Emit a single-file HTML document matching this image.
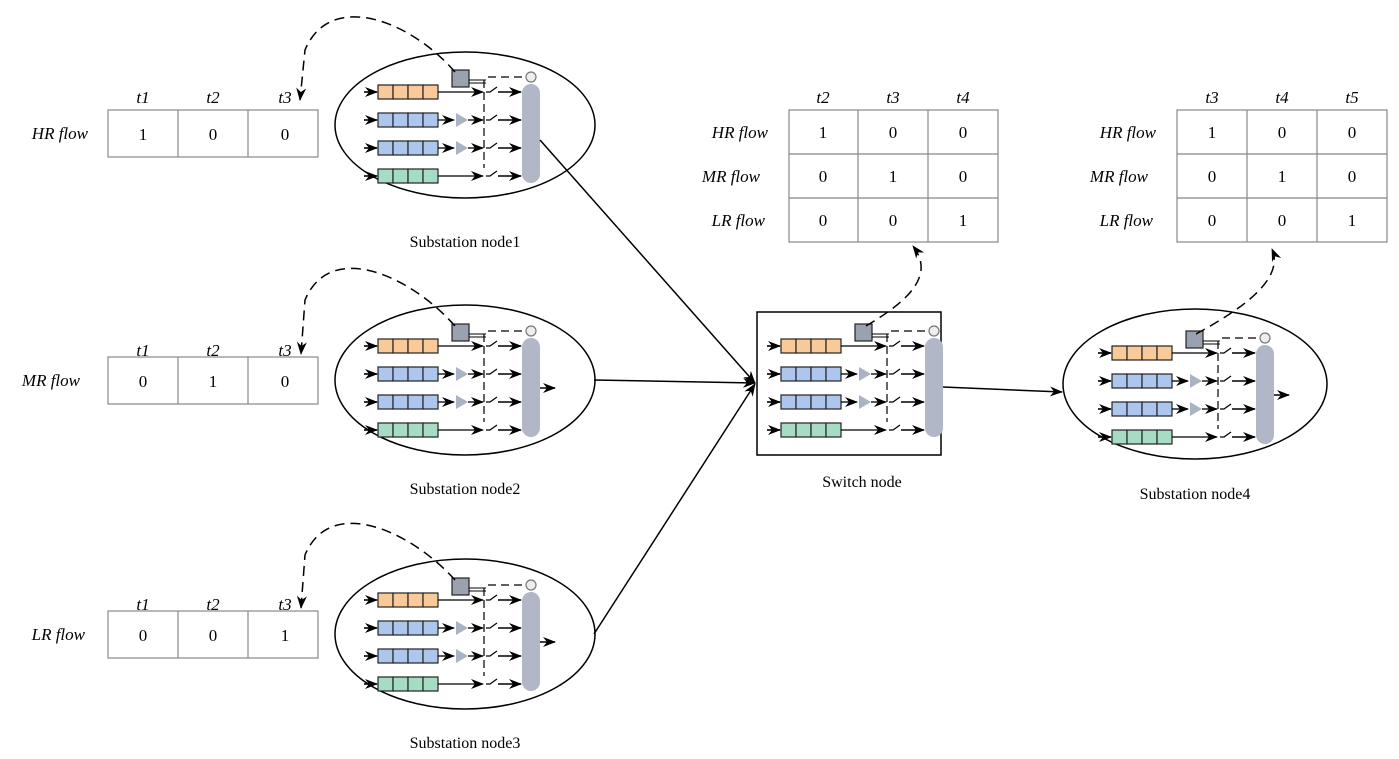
<!DOCTYPE html>
<html><head><meta charset="utf-8"><style>
body{margin:0;background:#fff}
svg{display:block;font-family:"Liberation Serif",serif}
.it{font-style:italic;font-size:17px}
.n{font-size:17px}
.lb{font-size:16px}
</style></head><body>
<svg width="1399" height="759" viewBox="0 0 1399 759" xmlns="http://www.w3.org/2000/svg">
<defs>
<marker id="ah" markerWidth="13" markerHeight="10" refX="12" refY="5" orient="auto" markerUnits="userSpaceOnUse"><path d="M0,0 L13,5 L0,10 L4,5 z" fill="#000"/></marker>
<g id="row">
  <line x1="-14" y1="0" x2="-1" y2="0" stroke="#000" stroke-width="1.6" marker-end="url(#ah)"/>
  <line x1="120" y1="0" x2="143" y2="0" stroke="#000" stroke-width="1.6" marker-end="url(#ah)"/>
  <path d="M108,0 L112,0 L119,-5" fill="none" stroke="#000" stroke-width="1.2"/>
</g>
<g id="cells">
  <rect x="0" y="-7" width="15" height="14" stroke="#222" stroke-width="1.2"/>
  <rect x="15" y="-7" width="15" height="14" stroke="#222" stroke-width="1.2"/>
  <rect x="30" y="-7" width="15" height="14" stroke="#222" stroke-width="1.2"/>
  <rect x="45" y="-7" width="15" height="14" stroke="#222" stroke-width="1.2"/>
</g>
<g id="mod">
  <use href="#row"/>
  <use href="#row" y="28"/>
  <use href="#row" y="56"/>
  <use href="#row" y="84"/>
  <use href="#cells" fill="#f9c99a"/>
  <use href="#cells" y="28" fill="#adc6ee"/>
  <use href="#cells" y="56" fill="#adc6ee"/>
  <use href="#cells" y="84" fill="#a7dcc4"/>
  <line x1="60" y1="0" x2="105" y2="0" stroke="#000" stroke-width="1.3" marker-end="url(#ah)"/>
  <line x1="60" y1="28" x2="76" y2="28" stroke="#000" stroke-width="1.3" marker-end="url(#ah)"/>
  <line x1="60" y1="56" x2="76" y2="56" stroke="#000" stroke-width="1.3" marker-end="url(#ah)"/>
  <polygon points="78,21 90,28 78,35" fill="#aab3c4"/>
  <polygon points="78,49 90,56 78,63" fill="#aab3c4"/>
  <line x1="90" y1="28" x2="105" y2="28" stroke="#000" stroke-width="1.3" marker-end="url(#ah)"/>
  <line x1="90" y1="56" x2="105" y2="56" stroke="#000" stroke-width="1.3" marker-end="url(#ah)"/>
  <line x1="60" y1="84" x2="105" y2="84" stroke="#000" stroke-width="1.3" marker-end="url(#ah)"/>
  <line x1="106" y1="-12" x2="106" y2="76" stroke="#000" stroke-width="1.2" stroke-dasharray="8,4"/>
  <rect x="144" y="-8" width="18" height="99" rx="9" fill="#b1b7c6"/>
  <rect x="74" y="-22" width="17" height="17" fill="#9aa2b2" stroke="#222" stroke-width="1.2"/>
  <line x1="91" y1="-12" x2="108" y2="-12" stroke="#000" stroke-width="1"/>
  <line x1="91" y1="-9" x2="108" y2="-9" stroke="#000" stroke-width="1"/>
  <line x1="110" y1="-15" x2="147" y2="-15" stroke="#000" stroke-width="1.2" stroke-dasharray="8,5"/>
  <circle cx="153" cy="-15" r="5" fill="#eee" stroke="#777" stroke-width="1.2"/>
</g>
<g id="out"><line x1="162" y1="42" x2="177" y2="42" stroke="#000" stroke-width="1.5" marker-end="url(#ah)"/></g>
</defs>

<ellipse cx="465" cy="125" rx="130" ry="73" fill="none" stroke="#000" stroke-width="1.5"/>
<ellipse cx="465" cy="380" rx="130" ry="75" fill="none" stroke="#000" stroke-width="1.5"/>
<ellipse cx="465" cy="634" rx="130" ry="75" fill="none" stroke="#000" stroke-width="1.5"/>
<ellipse cx="1195" cy="384" rx="132" ry="75" fill="none" stroke="#000" stroke-width="1.5"/>
<rect x="757" y="312" width="184" height="143" fill="none" stroke="#000" stroke-width="1.5"/>

<use href="#mod" transform="translate(378,92)"/>
<use href="#mod" transform="translate(378,346)"/><use href="#out" transform="translate(378,346)"/>
<use href="#mod" transform="translate(378,600)"/><use href="#out" transform="translate(378,600)"/>
<use href="#mod" transform="translate(781,346)"/>
<use href="#mod" transform="translate(1112,353)"/><use href="#out" transform="translate(1112,353)"/>

<line x1="540" y1="140" x2="755" y2="383" stroke="#000" stroke-width="1.5" marker-end="url(#ah)"/>
<line x1="594" y1="380" x2="755" y2="383" stroke="#000" stroke-width="1.5" marker-end="url(#ah)"/>
<line x1="594" y1="634" x2="755" y2="384" stroke="#000" stroke-width="1.5" marker-end="url(#ah)"/>
<line x1="943" y1="387" x2="1062" y2="392" stroke="#000" stroke-width="1.5" marker-end="url(#ah)"/>

<g fill="none" stroke="#000" stroke-width="1.5" stroke-dasharray="10,6">
<path d="M455,72 C410,20 330,-10 305,50 L300,100" marker-end="url(#ah)"/>
<path d="M455,326 C410,275 330,240 305,300 L301,354" marker-end="url(#ah)"/>
<path d="M455,580 C410,530 330,495 305,555 L301,608" marker-end="url(#ah)"/>
<path d="M866,326 C910,300 935,275 913,246" marker-end="url(#ah)"/>
<path d="M1196,334 C1240,310 1285,280 1272,249" marker-end="url(#ah)"/>
</g>

<g fill="none" stroke="#888" stroke-width="1.2">
<rect x="108" y="110" width="210" height="47"/><line x1="178" y1="110" x2="178" y2="157"/><line x1="248" y1="110" x2="248" y2="157"/>
<rect x="108" y="357" width="210" height="47"/><line x1="178" y1="357" x2="178" y2="404"/><line x1="248" y1="357" x2="248" y2="404"/>
<rect x="108" y="611" width="210" height="47"/><line x1="178" y1="611" x2="178" y2="658"/><line x1="248" y1="611" x2="248" y2="658"/>
<rect x="789" y="110" width="209" height="132"/><line x1="858" y1="110" x2="858" y2="242"/><line x1="928" y1="110" x2="928" y2="242"/><line x1="789" y1="154" x2="998" y2="154"/><line x1="789" y1="198" x2="998" y2="198"/>
<rect x="1177" y="110" width="210" height="132"/><line x1="1247" y1="110" x2="1247" y2="242"/><line x1="1317" y1="110" x2="1317" y2="242"/><line x1="1177" y1="154" x2="1387" y2="154"/><line x1="1177" y1="198" x2="1387" y2="198"/>
</g>

<g text-anchor="middle" class="it">
<text x="143" y="103">t1</text><text x="213" y="103">t2</text><text x="285" y="103">t3</text>
<text x="143" y="356">t1</text><text x="213" y="356">t2</text><text x="285" y="356">t3</text>
<text x="143" y="610">t1</text><text x="213" y="610">t2</text><text x="285" y="610">t3</text>
<text x="823" y="103">t2</text><text x="893" y="103">t3</text><text x="963" y="103">t4</text>
<text x="1212" y="103">t3</text><text x="1282" y="103">t4</text><text x="1352" y="103">t5</text>
</g>
<g text-anchor="end" class="it">
<text x="88" y="139">HR flow</text><text x="80" y="386">MR flow</text><text x="85" y="640">LR flow</text>
<text x="768" y="138">HR flow</text><text x="760" y="182">MR flow</text><text x="765" y="226">LR flow</text>
<text x="1156" y="138">HR flow</text><text x="1148" y="182">MR flow</text><text x="1153" y="226">LR flow</text>
</g>
<g text-anchor="middle" class="n">
<text x="143" y="140">1</text><text x="213" y="140">0</text><text x="285" y="140">0</text>
<text x="143" y="387">0</text><text x="213" y="387">1</text><text x="285" y="387">0</text>
<text x="143" y="641">0</text><text x="213" y="641">0</text><text x="285" y="641">1</text>
<text x="823" y="138">1</text><text x="893" y="138">0</text><text x="963" y="138">0</text>
<text x="823" y="182">0</text><text x="893" y="182">1</text><text x="963" y="182">0</text>
<text x="823" y="226">0</text><text x="893" y="226">0</text><text x="963" y="226">1</text>
<text x="1212" y="138">1</text><text x="1282" y="138">0</text><text x="1352" y="138">0</text>
<text x="1212" y="182">0</text><text x="1282" y="182">1</text><text x="1352" y="182">0</text>
<text x="1212" y="226">0</text><text x="1282" y="226">0</text><text x="1352" y="226">1</text>
</g>
<g text-anchor="middle" class="lb">
<text x="465" y="247">Substation node1</text>
<text x="465" y="494">Substation node2</text>
<text x="465" y="748">Substation node3</text>
<text x="862" y="487">Switch node</text>
<text x="1195" y="499">Substation node4</text>
</g>
</svg>
</body></html>
